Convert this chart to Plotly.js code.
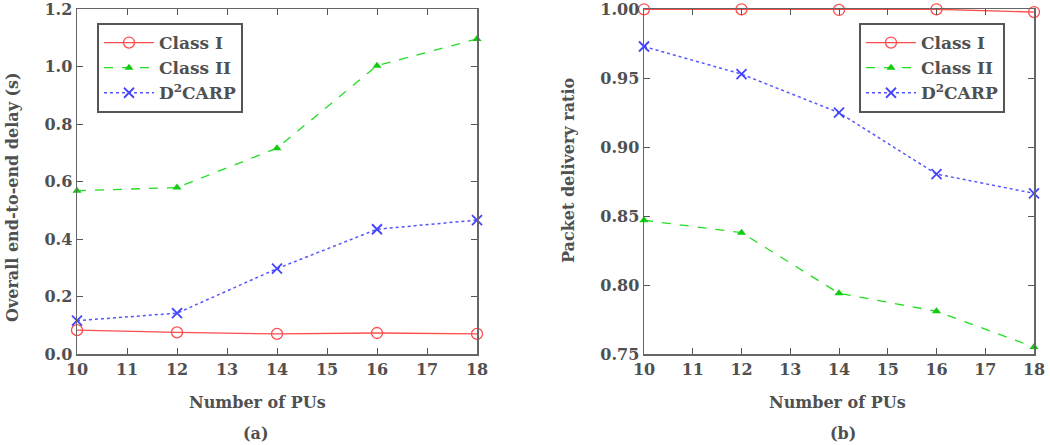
<!DOCTYPE html>
<html><head><meta charset="utf-8">
<script src="https://cdn.plot.ly/plotly-3.0.1.min.js"></script>
<style>body{margin:0;background:#fff}#c{width:1050px;height:445px}</style>
</head><body><div id="c"></div>
<script>
const pus = [10, 12, 14, 16, 18];
const seriesNames = ["Class I", "Class II", "D<sup>2</sup>CARP"];
const delayClassI = [0.083, 0.075, 0.070, 0.073, 0.070];
const delayClassII = [0.568, 0.579, 0.716, 1.003, 1.096];
const delayD2CARP = [0.116, 0.142, 0.297, 0.434, 0.466];
const pdrClassI = [1.000, 1.000, 0.9995, 1.000, 0.998];
const pdrClassII = [0.847, 0.838, 0.794, 0.781, 0.755];
const pdrD2CARP = [0.973, 0.953, 0.925, 0.8805, 0.8665];
const xTickVals = [10, 11, 12, 13, 14, 15, 16, 17, 18];
const delayTicks = [0.0, 0.2, 0.4, 0.6, 0.8, 1.0, 1.2];
const pdrTicks = [0.75, 0.80, 0.85, 0.90, 0.95, 1.00];

const FONT = "DejaVu Serif, Liberation Serif, serif";
const TXT = "#505050";
const styles = [
  {line:{color:"#ff4d4d", width:1.3, dash:"solid"}, marker:{symbol:"circle-open", size:11, color:"#ff4d4d", line:{width:1.3}}},
  {line:{color:"#22dd22", width:1.3, dash:"dash"}, marker:{symbol:"triangle-up", size:8, color:"#11cc11"}},
  {line:{color:"#5555ff", width:1.5, dash:"dot"}, marker:{symbol:"x-thin-open", size:10, color:"#4444ff", line:{width:1.8, color:"#4444ff"}}}
];
const left = [delayClassI, delayClassII, delayD2CARP];
const right = [pdrClassI, pdrClassII, pdrD2CARP];
const traces = [];
left.forEach((y,i)=>traces.push(Object.assign({x:pus, y:y, name:seriesNames[i], mode:"lines+markers", xaxis:"x", yaxis:"y", legend:"legend", cliponaxis:false}, styles[i])));
right.forEach((y,i)=>traces.push(Object.assign({x:pus, y:y, name:seriesNames[i], mode:"lines+markers", xaxis:"x2", yaxis:"y2", legend:"legend2", cliponaxis:false}, styles[i])));

const tf = {family:FONT, size:16, color:TXT, weight:"bold"};
const axBase = {showgrid:false, zeroline:false, showline:true, linecolor:"#666", linewidth:1.5, mirror:"ticks", ticks:"inside", ticklen:6, tickcolor:"#555", tickfont:tf, tickmode:"array", ticklabeloverflow:"allow"};
const legBase = {bordercolor:"#555", borderwidth:2, bgcolor:"#fff", font:{family:FONT, size:17, color:TXT, weight:"bold"}, tracegroupgap:0, itemwidth:50, yanchor:"top", xanchor:"left", xref:"paper", yref:"paper"};
const plotH = 445 - 9 - 91;
const py = p => (445 - 91 - p) / plotH;
const layout = {
  width:1050, height:445, paper_bgcolor:"#fff", plot_bgcolor:"#fff", showlegend:true,
  margin:{l:0, r:0, t:9, b:91},
  xaxis: Object.assign({}, axBase, {domain:[77/1050, 477/1050], range:[10,18.0001], tickvals:xTickVals, anchor:"y"}),
  yaxis: Object.assign({}, axBase, {range:[0,1.2002], tickvals:delayTicks, ticktext:delayTicks.map(v=>v.toFixed(1)), anchor:"x"}),
  xaxis2: Object.assign({}, axBase, {domain:[644/1050, 1034/1050], range:[10,18.0001], tickvals:xTickVals, anchor:"y2"}),
  yaxis2: Object.assign({}, axBase, {range:[0.75,1.0002], tickvals:pdrTicks, ticktext:pdrTicks.map(v=>v.toFixed(2)), anchor:"x2"}),
  legend: Object.assign({}, legBase, {x:97/1050, y:py(23)}),
  legend2: Object.assign({}, legBase, {x:859/1050, y:py(23)}),
  annotations:[
    {text:"Number of PUs", x:257/1050, y:py(402)},
    {text:"(a)", x:256/1050, y:py(433)},
    {text:"Number of PUs", x:837/1050, y:py(402)},
    {text:"(b)", x:843/1050, y:py(433)},
    {text:"Overall end-to-end delay (s)", textangle:-90, x:12/1050, y:py(197)},
    {text:"Packet delivery ratio", textangle:-90, x:568/1050, y:py(170)}
  ].map(a=>Object.assign({xref:"paper", yref:"paper", xanchor:"center", yanchor:"middle", showarrow:false, font:tf}, a))
};
Plotly.newPlot("c", traces, layout, {staticPlot:true});
</script>
</body></html>
